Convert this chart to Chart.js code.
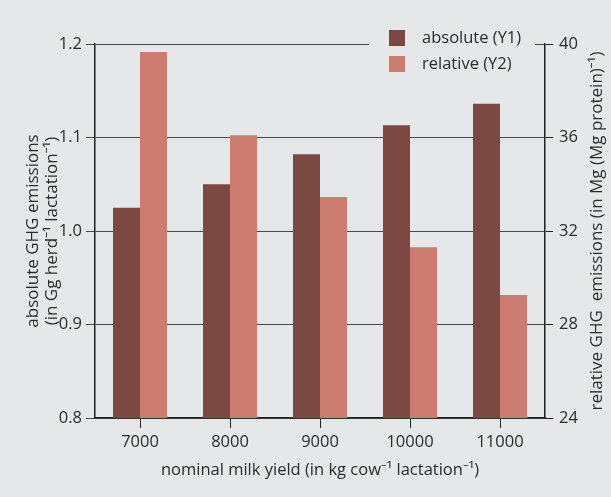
<!DOCTYPE html>
<html>
<head>
<meta charset="utf-8">
<script src="https://cdn.jsdelivr.net/npm/chart.js@4.4.1/dist/chart.umd.min.js"></script>
<style>
  html, body { margin: 0; padding: 0; background: #e6e7e8; }
  #wrap { width: 611px; height: 497px; }
</style>
</head>
<body>
<div id="wrap"><canvas id="milkChart"></canvas></div>
<script>
// data
const milkYield = ['7000', '8000', '9000', '10000', '11000'];
const absoluteGHG = [1.025, 1.050, 1.082, 1.113, 1.136];
const relativeGHG = [39.66, 36.1, 33.45, 31.3, 29.26];
const absTicks = [0.8, 0.9, 1.0, 1.1, 1.2];
const relTicks = [24, 28, 32, 36, 40];

const darkRed = '#7c4942';
const lightRed = '#cb7b6f';
const bg = '#e6e7e8';
const txt = '#2b2b2b';
const fontName = '"Open Sans", "Noto Sans", sans-serif';

Chart.defaults.font.family = fontName;
Chart.defaults.color = txt;

// legend + right axis title (reads bottom to top)
const extras = {
  id: 'extras',
  afterDraw(chart) {
    const ctx = chart.ctx;
    const area = chart.chartArea;
    ctx.save();
    // legend box hides part of the top line
    ctx.fillStyle = bg;
    ctx.fillRect(369, 22, 166, 56);
    const items = [['absolute (Y1)', darkRed, 30], ['relative (Y2)', lightRed, 56]];
    ctx.font = '16.5px ' + fontName;
    ctx.textBaseline = 'middle';
    ctx.textAlign = 'left';
    items.forEach(it => {
      ctx.fillStyle = it[1];
      ctx.fillRect(389, it[2], 16, 16);
      ctx.fillStyle = txt;
      ctx.fillText(it[0], 422, it[2] + 8);
    });
    // right title
    ctx.font = '17px ' + fontName;
    ctx.translate(597, (area.top + area.bottom) / 2);
    ctx.rotate(-Math.PI / 2);
    ctx.textAlign = 'center';
    ctx.fillText('relative GHG  emissions (in Mg (Mg protein)\u207B\u00B9)', 0, 0);
    ctx.restore();
  }
};

new Chart(document.getElementById('milkChart'), {
  type: 'bar',
  data: {
    labels: milkYield,
    datasets: [
      {
        label: 'absolute (Y1)',
        data: absoluteGHG,
        backgroundColor: darkRed,
        yAxisID: 'y',
        categoryPercentage: 0.6,
        barPercentage: 1.0
      },
      {
        label: 'relative (Y2)',
        data: relativeGHG,
        backgroundColor: lightRed,
        yAxisID: 'y2',
        categoryPercentage: 0.6,
        barPercentage: 1.0
      }
    ]
  },
  options: {
    responsive: true,
    maintainAspectRatio: false,
    animation: false,
    layout: { padding: { top: 44, left: 0, right: 0, bottom: 0 } },
    plugins: {
      legend: { display: false },
      tooltip: { enabled: false }
    },
    scales: {
      x: {
        afterFit: s => { s.height = 79; },
        grid: { drawOnChartArea: false, offset: false, tickLength: 10, color: '#222', lineWidth: 1 },
        border: { color: '#222', width: 1.5 },
        ticks: { font: { size: 16.5 }, padding: 4, color: txt },
        title: {
          display: true,
          text: 'nominal milk yield (in kg cow\u207B\u00B9 lactation\u207B\u00B9)',
          font: { size: 16.5 },
          color: txt,
          padding: { top: 0, bottom: 17 }
        }
      },
      y: {
        position: 'left',
        min: 0.8,
        max: 1.2,
        afterFit: s => { s.width = 95; },
        afterBuildTicks: s => { s.ticks = absTicks.map(v => ({ value: v })); },
        grid: { color: '#4a4a4a', lineWidth: 1, tickLength: 9 },
        border: { color: '#222', width: 1.5 },
        ticks: { font: { size: 16.5 }, padding: 4, color: txt, callback: v => v.toFixed(1) },
        title: {
          display: true,
          text: ['absolute GHG emissions', '(in Gg herd\u207B\u00B9 lactation\u207B\u00B9)'],
          font: { size: 17, lineHeight: 1.15 },
          color: txt,
          padding: { top: 23, bottom: 0 }
        }
      },
      y2: {
        position: 'right',
        min: 24,
        max: 40,
        afterFit: s => { s.width = 66; },
        afterBuildTicks: s => { s.ticks = relTicks.map(v => ({ value: v })); },
        grid: { drawOnChartArea: false, color: '#222', tickLength: 8 },
        border: { color: '#222', width: 1.5 },
        ticks: { font: { size: 16.5 }, padding: 6, color: txt }
      }
    }
  },
  plugins: [extras]
});
</script>
</body>
</html>
